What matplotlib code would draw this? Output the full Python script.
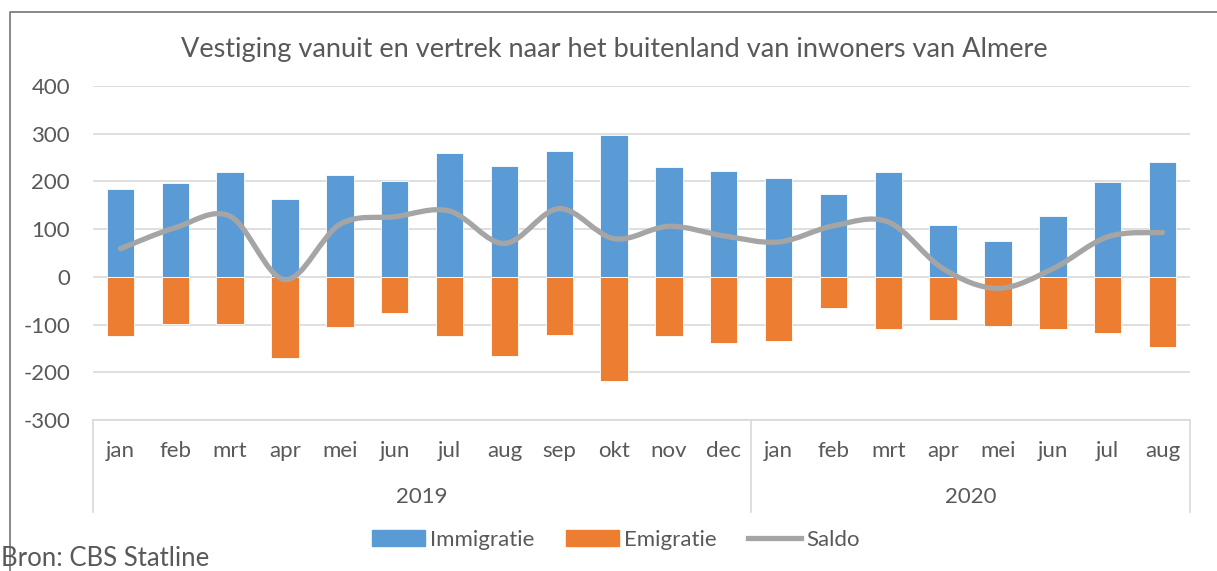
import matplotlib
matplotlib.use("Agg")
import matplotlib.pyplot as plt
from matplotlib.path import Path
from matplotlib.patches import PathPatch, Rectangle
from matplotlib.lines import Line2D
import matplotlib.transforms as mtransforms

months = ["jan", "feb", "mrt", "apr", "mei", "jun", "jul", "aug", "sep", "okt", "nov", "dec",
          "jan", "feb", "mrt", "apr", "mei", "jun", "jul", "aug"]
years = ["2019", "2020"]
year_counts = [12, 8]
immigratie = [184, 197, 220, 164, 213, 201, 259, 233, 264, 297, 230, 221,
              207, 173, 220, 108, 76, 127, 199, 240]
emigratie = [-124, -99, -98, -171, -106, -76, -123, -166, -121, -218, -124, -138,
             -135, -66, -109, -90, -102, -110, -118, -146]
saldo = [59, 103, 127, -6, 110, 126, 138, 70, 143, 80, 106, 86,
         73, 107, 115, 17, -24, 17, 84, 93]
yticks = [-300, -200, -100, 0, 100, 200, 300, 400]

FONT = ["Lato", "DejaVu Sans"]
TXT = "#595959"
BLUE = "#5B9BD5"
ORANGE = "#ED7D31"
GRAY = "#A5A5A5"
GRID = "#D9D9D9"
FS = 16

W, H = 1217, 571
fig = plt.figure(figsize=(W / 100, H / 100), dpi=100)
plt.rcParams['font.family'] = FONT

left, right, top, bottom = 93, 1190, 86, 420
ax = fig.add_axes([left / W, 1 - bottom / H, (right - left) / W, (bottom - top) / H])

x = list(range(len(months)))
ax.bar(x, immigratie, width=0.5, color=BLUE, edgecolor="white", linewidth=0.6, zorder=2)
ax.bar(x, emigratie, width=0.5, color=ORANGE, edgecolor="white", linewidth=0.6, zorder=2)

# smooth saldo line (cubic Bezier through the data points)
verts = [(x[0], saldo[0])]
codes = [Path.MOVETO]
n = len(x)
for i in range(n - 1):
    p0 = (x[i - 1], saldo[i - 1]) if i > 0 else (x[i], saldo[i])
    p1 = (x[i], saldo[i])
    p2 = (x[i + 1], saldo[i + 1])
    p3 = (x[i + 2], saldo[i + 2]) if i + 2 < n else p2
    c1 = (p1[0] + (p2[0] - p0[0]) / 6, p1[1] + (p2[1] - p0[1]) / 6)
    c2 = (p2[0] - (p3[0] - p1[0]) / 6, p2[1] - (p3[1] - p1[1]) / 6)
    verts += [c1, c2, p2]
    codes += [Path.CURVE4] * 3
ax.add_patch(PathPatch(Path(verts, codes), facecolor="none", edgecolor=GRAY,
                       linewidth=3.8, capstyle="round", joinstyle="round", zorder=3))

ax.set_xlim(-0.5, n - 0.5)
ax.set_ylim(-300, 400)
ax.set_yticks(yticks)
ax.set_yticklabels([str(v) for v in yticks], fontsize=FS, color=TXT, family=FONT)
ax.tick_params(axis="y", length=0, pad=16.5)
ax.set_xticks(x)
ax.set_xticklabels(months, fontsize=FS, color=TXT, family=FONT)
ax.tick_params(axis="x", length=0, pad=15)
ax.grid(axis="y", color=GRID, linewidth=1.2, zorder=0)
ax.set_axisbelow(True)
for s in ["top", "right", "left"]:
    ax.spines[s].set_visible(False)
ax.spines["bottom"].set_color(GRID)
ax.spines["bottom"].set_linewidth(1.2)

# category axis separators and year labels
trans = mtransforms.blended_transform_factory(ax.transData, fig.transFigure)
y0 = 1 - bottom / H
y1 = 1 - 512 / H
pos = -0.5
seps = [pos]
for c in year_counts:
    pos += c
    seps.append(pos)
for s in seps:
    fig.add_artist(Line2D([s, s], [y0, y1], transform=trans, color=GRID, linewidth=1.2))
for i, yr in enumerate(years):
    mid = (seps[i] + seps[i + 1]) / 2
    fig.text(mid, 1 - 497 / H, yr, transform=trans, ha="center", va="center",
             fontsize=FS, color=TXT, family=FONT)

# title
fig.text(614 / W, 1 - 50 / H, "Vestiging vanuit en vertrek naar het buitenland van inwoners van Almere",
         ha="center", va="center", fontsize=19.5, color=TXT, family=FONT)

# legend
handles = [Rectangle((0, 0), 1, 1, color=BLUE), Rectangle((0, 0), 1, 1, color=ORANGE),
           Line2D([0], [0], color=GRAY, linewidth=3.8)]
leg = fig.legend(handles, ["Immigratie", "Emigratie", "Saldo"], loc="center",
                 bbox_to_anchor=(616 / W, 1 - 540 / H), ncol=3, frameon=False,
                 prop={"family": FONT, "size": FS}, handlelength=2.4, handleheight=0.72,
                 handletextpad=0.23, columnspacing=1.4, labelcolor=TXT)

# source
fig.text(1 / W, 1 - 558 / H, "Bron: CBS Statline", ha="left", va="center",
         fontsize=18.5, color=TXT, family=FONT)

# outer frame
fig.add_artist(Line2D([10 / W, 10 / W, 1.01], [-0.01, 1 - 12 / H, 1 - 12 / H],
                      transform=fig.transFigure, color="#7F7F7F", linewidth=1.3))

fig.savefig("out.png", dpi=100)
